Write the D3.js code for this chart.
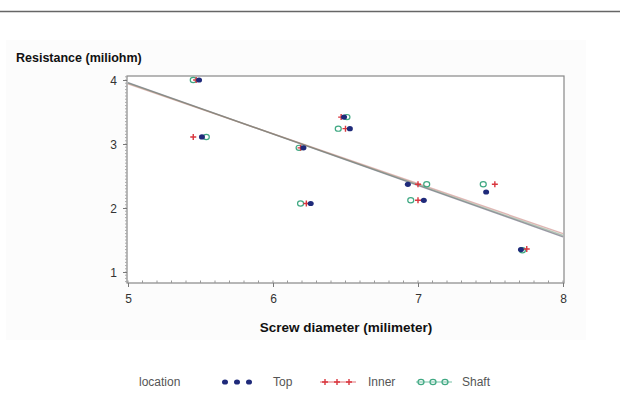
<!DOCTYPE html>
<html><head><meta charset="utf-8">
<script src="https://cdn.jsdelivr.net/npm/d3@7"></script>
<style>body{margin:0;background:#fff;font-family:Arial,"Liberation Sans",sans-serif}</style>
</head><body><svg id="c" width="620" height="394"></svg>
<script>
const xTicks = [5, 6, 7, 8];
const yTicks = [1, 2, 3, 4];
const groups = ["Top", "Inner", "Shaft"];
const colors = ["#1f2a7a", "#d9363e", "#3fa882"];
const topX   = [5.49, 5.51, 6.21, 6.26, 6.49, 6.53, 6.93, 7.04, 7.47, 7.71];
const topY   = [4.00, 3.11, 2.94, 2.07, 3.42, 3.24, 2.37, 2.12, 2.25, 1.35];
const innerX = [5.47, 5.45, 6.19, 6.23, 6.47, 6.50, 7.00, 7.00, 7.53, 7.75];
const innerY = [4.00, 3.11, 2.94, 2.07, 3.42, 3.24, 2.37, 2.12, 2.37, 1.36];
const shaftX = [5.45, 5.54, 6.18, 6.19, 6.51, 6.45, 7.06, 6.95, 7.45, 7.72];
const shaftY = [4.00, 3.11, 2.94, 2.07, 3.42, 3.24, 2.37, 2.12, 2.37, 1.34];
const fitX = [5, 8];
const fitTop = [3.96, 1.55];
const fitInner = [3.94, 1.60];
const fitShaft = [3.95, 1.57];

const svg = d3.select("#c");
svg.append("line").attr("x1",0).attr("x2",620).attr("y1",11.5).attr("y2",11.5).attr("stroke","#666").attr("stroke-width",1.5);
svg.append("rect").attr("x",6).attr("y",40).attr("width",580).attr("height",300).attr("fill","#fcfcfc");

const L=127, R=564, T=76, B=283;
const x = d3.scaleLinear().domain([5,8]).range([L+1,R-1]);
const y = d3.scaleLinear().domain([1,4]).range([272,80]);
svg.append("rect").attr("x",L).attr("y",T).attr("width",R-L).attr("height",B-T).attr("fill","#fff").attr("stroke","#888").attr("stroke-width",1.2);

// minor ticks
const xMinor = d3.range(5,8.001,0.1);
svg.append("g").selectAll("line").data(xMinor).join("line")
  .attr("x1",d=>x(d)).attr("x2",d=>x(d)).attr("y1",B).attr("y2",B-2.5).attr("stroke","#999");
const yMinor = d3.range(0.85,4.06,0.05);
svg.append("g").selectAll("line").data(yMinor).join("line")
  .attr("x1",L-2).attr("x2",L).attr("y1",d=>y(d)).attr("y2",d=>y(d)).attr("stroke","#aaa");

const xa = svg.append("g").attr("transform",`translate(0,${B})`)
  .call(d3.axisBottom(x).tickValues(xTicks).tickSize(4).tickFormat(d3.format("d")));
const ya = svg.append("g").attr("transform",`translate(${L},0)`)
  .call(d3.axisLeft(y).tickValues(yTicks).tickSize(4).tickFormat(d3.format("d")));
[xa,ya].forEach(a=>{a.select(".domain").remove();
  a.selectAll("line").attr("stroke","#777");
  a.selectAll("text").attr("font-size",12).attr("fill","#333").attr("font-family","Arial, Liberation Sans, sans-serif");});
xa.selectAll("text").attr("dy","1.1em");
ya.selectAll("text").attr("dy","0.36em").attr("x",-10);

// fit lines
[fitTop,fitInner,fitShaft].forEach((f,i)=>{
  svg.append("line").attr("x1",x(fitX[0])).attr("x2",x(fitX[1])).attr("y1",y(f[0])).attr("y2",y(f[1]))
   .attr("stroke",["#3a3550","#c0706a","#6a8a70"][i]).attr("stroke-width",1.4).attr("opacity",0.5);
});

function drawMarker(g, kind, cx, cy, col){
  if(kind===0){ g.append("ellipse").attr("cx",cx).attr("cy",cy).attr("rx",3).attr("ry",2.6).attr("fill",col); }
  else if(kind===1){ g.append("path").attr("d",`M${cx-3},${cy}H${cx+3}M${cx},${cy-3}V${cy+3}`).attr("stroke",col).attr("stroke-width",1.4); }
  else { g.append("ellipse").attr("cx",cx).attr("cy",cy).attr("rx",3).attr("ry",2.6).attr("fill","none").attr("stroke",col).attr("stroke-width",1.2); }
}
const pts = svg.append("g");
const sets = [[shaftX,shaftY],[innerX,innerY],[topX,topY]];
const kinds = [2,1,0];
sets.forEach((s,j)=>{
  const k = kinds[j];
  s[0].forEach((v,i)=>drawMarker(pts,k,x(v),y(s[1][i]),colors[k]));
});

svg.append("text").attr("x",16).attr("y",62).attr("font-size",12.5).attr("font-weight","bold").attr("fill","#111").text("Resistance (miliohm)");
svg.append("text").attr("x",346).attr("y",332).attr("text-anchor","middle").attr("font-size",13.5).attr("font-weight","bold").attr("fill","#111").text("Screw diameter (milimeter)");

// legend
const lg = svg.append("g").attr("font-size",12).attr("fill","#555");
lg.append("text").attr("x",139).attr("y",386).text("location");
const lx=[220,320,416], tx=[273,368,462];
groups.forEach((gname,k)=>{
  if(k>0) lg.append("line").attr("x1",lx[k]).attr("x2",lx[k]+36).attr("y1",382).attr("y2",382).attr("stroke",colors[k]).attr("stroke-width",1.1).attr("opacity",0.7);
  [5,17,29].forEach(o=>drawMarker(lg,k,lx[k]+o,382,colors[k]));
  lg.append("text").attr("x",tx[k]).attr("y",386).text(gname);
});
</script></body></html>
